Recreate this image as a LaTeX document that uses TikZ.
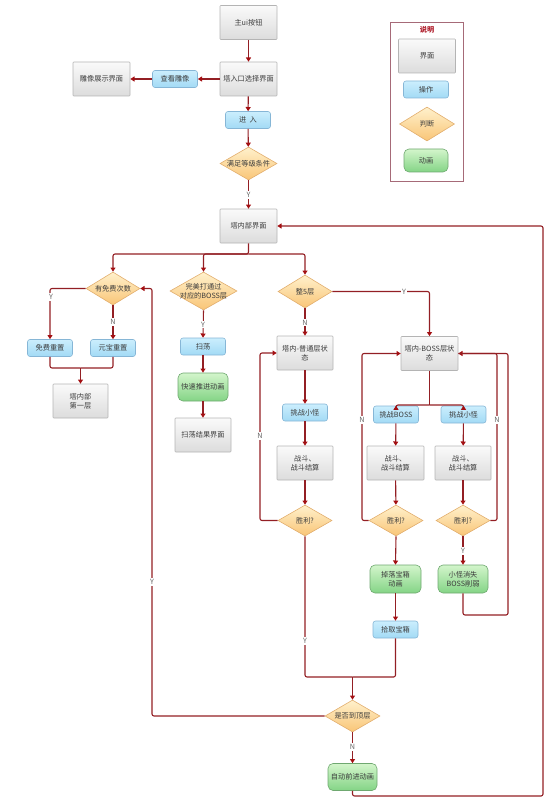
\documentclass[tikz,border=0pt]{standalone}
\usepackage{fontspec}
\newfontfamily\cjk{Noto Sans CJK SC}
\usetikzlibrary{shapes.geometric,arrows.meta}
\definecolor{linecol}{HTML}{931F24}
\definecolor{tipcol}{HTML}{A30F12}
\definecolor{grayT}{HTML}{FAFAFA}
\definecolor{grayB}{HTML}{DCDCDC}
\definecolor{grayD}{HTML}{B4B4B4}
\definecolor{blueT}{HTML}{CBEEFD}
\definecolor{blueB}{HTML}{A2DAF5}
\definecolor{blueD}{HTML}{86B6D6}
\definecolor{oraT}{HTML}{FFF1CC}
\definecolor{oraB}{HTML}{F9C577}
\definecolor{oraD}{HTML}{E2AE6E}
\definecolor{grnT}{HTML}{D3F5CB}
\definecolor{grnB}{HTML}{84D486}
\definecolor{grnD}{HTML}{6FA870}
\definecolor{legD}{HTML}{A66A78}
\definecolor{legT}{HTML}{B0202E}
\definecolor{txtc}{HTML}{3C3C3C}
\tikzset{
  base/.style={font=\cjk\fontsize{7.2}{9}\selectfont, text=txtc, align=center, inner sep=0pt},
  ui/.style={base, draw=grayD, line width=0.6pt, top color=grayT, bottom color=grayB, minimum width=57pt, minimum height=34pt, rounded corners=0.8pt},
  op/.style={base, draw=blueD, line width=0.6pt, top color=blueT, bottom color=blueB, minimum width=45pt, minimum height=17pt, rounded corners=2.5pt},
  anim/.style={base, draw=grnD, line width=0.6pt, top color=grnT, bottom color=grnB, minimum width=50pt, minimum height=28pt, rounded corners=5pt},
  diashape/.style={diamond, draw=oraD, line width=0.6pt, top color=oraT, bottom color=oraB, inner sep=0pt},
  ln/.style={draw=linecol, line width=1.1pt, rounded corners=2pt},
  arr/.style={ln, -{Triangle[width=5pt,length=4.2pt,color=tipcol]}},
  yn/.style={base, fill=white, text=black!60, inner sep=1.2pt}
}
\newcommand\dia[6]{%
  \node[diashape, minimum width=#4pt, minimum height=#5pt] (#1) at (#2,#3) {};
  \node[base] at (#1) {#6};}
\begin{document}
\begin{tikzpicture}[x=1pt,y=-1pt]
\useasboundingbox (0,0) rectangle (553,805);
% legend
\node[draw=legD, line width=0.7pt, minimum width=73pt, minimum height=159pt, inner sep=0pt] (leg) at (426.5,101.5) {};
\node[base, text=legT, font=\cjk\bfseries\fontsize{7.2}{9}\selectfont] (legt) at (427,30) {说明};
\node[ui] (lg1) at (427,56) {界面};
\node[op] (lg2) at (426,89.5) {操作};
\dia{lg3}{427}{124}{55}{34}{判断}
\node[anim, minimum width=44pt, minimum height=23pt] (lg4) at (426,160.5) {动画};

% top part
\node[ui] (main) at (248.5,22.5) {主ui按钮};
\node[ui] (entry) at (248.5,79) {塔入口选择界面};
\node[op] (view) at (175,79) {查看雕像};
\node[ui] (statue) at (101.5,79) {雕像展示界面};
\node[op] (enter) at (248,120) {进\ \ 入};
\dia{cond}{248.5}{163.5}{57}{33}{满足等级条件}
\node[ui] (inner) at (248.5,226) {塔内部界面};

% second level
\dia{free}{113}{288.5}{54}{33}{有免费次数}
\dia{perfect}{203.5}{291}{67}{38}{完美打通过\\对应的BOSS层}
\dia{five}{305}{291.5}{54}{33}{整5层}

\node[op] (freeR) at (50,348) {免费重置};
\node[op] (gold) at (113,348) {元宝重置};
\node[ui, minimum width=55pt] (first) at (80.5,401) {塔内部\\第一层};

\node[op] (sweep) at (203,346.5) {扫荡};
\node[anim] (fast) at (203,387) {快速推进动画};
\node[ui, minimum width=56pt] (result) at (203,435) {扫荡结果界面};

\node[ui, minimum width=56pt] (normal) at (305,353) {塔内-普通层状\\态};
\node[op] (ch1) at (305,412.5) {挑战小怪};
\node[ui, minimum width=56pt] (f1) at (305,463) {战斗、\\战斗结算};
\dia{win1}{305}{520.5}{54}{31}{胜利?}

\node[ui] (boss) at (429.5,353.5) {塔内-BOSS层状\\态};
\node[op] (chB) at (396,414.5) {挑战BOSS};
\node[op] (ch2) at (463.5,414.5) {挑战小怪};
\node[ui] (fB) at (395.5,463) {战斗、\\战斗结算};
\node[ui, minimum width=56pt] (f2) at (463,463) {战斗、\\战斗结算};
\dia{winB}{396}{520.5}{54}{31}{胜利?}
\dia{win2}{463}{520.5}{54}{31}{胜利?}
\node[anim, minimum width=51pt] (drop) at (395.5,579) {掉落宝箱\\动画};
\node[anim] (weak) at (463,579) {小怪消失\\BOSS削弱};
\node[op] (pick) at (395.5,629.5) {拾取宝箱};

\dia{top}{352.5}{716}{55}{32}{是否到顶层}
\node[anim, minimum width=49pt, minimum height=27pt] (auto) at (352.5,777) {自动前进动画};

% junction coordinates
\coordinate (sp1) at (248.5,254);
\coordinate (jn1) at (80.5,368);
\coordinate (sp2) at (429.5,405);
\coordinate (jn2) at (352.5,677);

% connectors
\draw[arr] (main) -- (entry);
\draw[arr] (entry) -- (view);
\draw[arr] (view) -- (statue);
\draw[arr] (entry) -- (enter);
\draw[arr] (enter) -- (cond);
\draw[arr] (cond) -- (inner);
\draw[arr] (inner.south) -- (sp1) -| (free.north);
\draw[arr] (sp1) -| (perfect.north);
\draw[arr] (sp1) -| (five.north);

\draw[arr] (free.west) -| (freeR.north);
\draw[arr] (free.south) -- (gold.north);
\draw[ln] (freeR.south) |- (jn1);
\draw[ln] (gold.south) |- (jn1);
\draw[arr] (jn1) -- (first.north);

\draw[arr] (perfect.south) -- (sweep.north);
\draw[arr] (sweep) -- (fast);
\draw[arr] (fast) -- (result);

\draw[arr] (five.east) -| (boss.north);
\draw[arr] (five.south) -- (normal.north);
\draw[arr] (normal) -- (ch1);
\draw[arr] (ch1) -- (f1);
\draw[arr] (f1) -- (win1);
\draw[arr] (win1.west) -- (260,520.5) |- (normal.west);

\draw[ln] (boss.south) -- (sp2);
\draw[arr] (sp2) -| (chB.north);
\draw[arr] (sp2) -| (ch2.north);
\draw[arr] (chB) -- (fB);
\draw[arr] (ch2) -- (f2);
\draw[arr] (fB) -- (winB);
\draw[arr] (f2) -- (win2);
\draw[arr] (winB.west) -- (362,520.5) |- (boss.west);
\draw[arr] (win2.east) -- (497,520.5) |- (boss.east);
\draw[arr] (winB.south) -- (drop.north);
\draw[arr] (win2.south) -- (weak.north);
\draw[arr] (drop) -- (pick);
\draw[ln] (weak.south) |- (508,615) |- (boss.east);

\draw[ln] (win1.south) |- (jn2);
\draw[ln] (pick.south) |- (jn2);
\draw[arr] (jn2) -- (top.north);
\draw[arr] (top.west) -| (152,288.5) -- (free.east);
\draw[arr] (top.south) -- (auto.north);
\draw[arr] (auto.south) |- (543,796) |- (inner.east);

% Y / N labels
\node[yn] (l1) at (248.5,195) {Y};
\node[yn] (l2) at (51,297) {Y};
\node[yn] (l3) at (113,322) {N};
\node[yn] (l4) at (203,324.5) {Y};
\node[yn] (l5) at (404,291.5) {Y};
\node[yn] (l6) at (305,322.5) {N};
\node[yn] (l7) at (260,436) {N};
\node[yn] (l8) at (362,420) {N};
\node[yn] (l9) at (497,420) {N};
\node[yn] (l10) at (463,551) {Y};
\node[yn] (l11) at (305,641) {Y};
\node[yn] (l12) at (152,582) {Y};
\node[yn] (l13) at (352.5,747) {N};
\end{tikzpicture}
\end{document}
